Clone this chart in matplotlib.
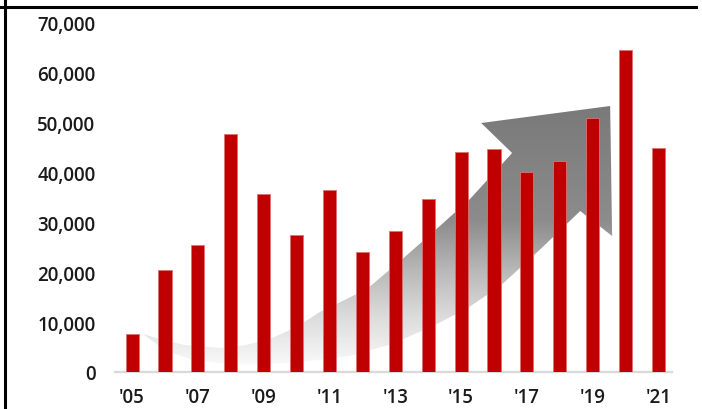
import numpy as np
import matplotlib
matplotlib.use("Agg")
import matplotlib.pyplot as plt
from matplotlib.patches import Polygon
from matplotlib.lines import Line2D
from matplotlib.colors import LinearSegmentedColormap

years = list(range(2005, 2022))
values = [7600, 20400, 25400, 47600, 35600, 27400, 36400, 24000, 28200,
          34600, 44000, 44600, 40000, 42200, 50800, 64400, 44800]
tick_labels = ["'05", "'07", "'09", "'11", "'13", "'15", "'17", "'19", "'21"]
y_ticks = [0, 10000, 20000, 30000, 40000, 50000, 60000, 70000]

plt.rcParams['font.family'] = ['Open Sans', 'DejaVu Sans']

fig = plt.figure(figsize=(7.02, 4.10), dpi=100)
ax = fig.add_axes([115 / 702, 1 - 373 / 410, 557 / 702, 350 / 410])

x = np.arange(len(years))
ax.bar(x, values, width=0.40, color='#C00000', edgecolor='#E07070',
       linewidth=0.6, zorder=3)

# decorative curved arrow (background), x in bar slots, y in data units
arrow_pts = [
    (0.33, 7600), (1.0, 6300), (1.6, 5400), (2.67, 4800), (3.4, 5300),
    (4.19, 6600), (5.0, 9000), (5.71, 12000), (7.14, 16600), (8.2, 22500),
    (9.15, 28000), (10.27, 34600), (11.55, 43800),
    (10.61, 49800), (14.53, 53200), (14.59, 27200), (13.62, 32200),
    (12.4, 24500), (11.19, 17200), (10.2, 12800), (9.15, 9200),
    (7.9, 5600), (6.63, 3200), (5.0, 1900), (3.59, 1500), (2.6, 1800),
    (1.76, 2600), (1.0, 4300),
]
arrow = Polygon(arrow_pts, closed=True, facecolor='none', edgecolor='none')
ax.add_patch(arrow)
cmap = LinearSegmentedColormap.from_list('grad', [
    (0.0, '#ffffff'), (0.06, '#f3f3f3'), (0.2, '#dcdcdc'),
    (0.37, '#b8b8b8'), (0.55, '#8c8c8c'), (1.0, '#787878')])
grad = np.linspace(0, 1, 256).reshape(-1, 1)
img = ax.imshow(grad, cmap=cmap, origin='lower', aspect='auto',
                extent=[0, 15, 0, 55000], zorder=1)
img.set_clip_path(arrow)

ax.set_xlim(-0.52, 16.41)
ax.set_ylim(0, 70000)
ax.set_xticks(x[::2])
ax.set_xticklabels(tick_labels)
ax.set_yticks(y_ticks)
ax.set_yticklabels([f"{v:,}" for v in y_ticks])
for s in ['top', 'right', 'left']:
    ax.spines[s].set_visible(False)
ax.spines['bottom'].set_color('#d9d9d9')
ax.spines['bottom'].set_linewidth(1.6)
ax.spines['bottom'].set_zorder(2)
ax.tick_params(axis='both', length=0, labelsize=13.5, colors='#1a1a1a')
ax.tick_params(axis='y', pad=14)
ax.tick_params(axis='x', pad=11)
for lab in ax.get_xticklabels() + ax.get_yticklabels():
    lab.set_fontweight('semibold')

# frame lines on the figure
fig.add_artist(Line2D([4.5 / 702, 4.5 / 702], [0, 1], color='black', lw=2.2))
fig.add_artist(Line2D([0, 696 / 702], [1 - 7.5 / 410, 1 - 7.5 / 410],
                      color='black', lw=2.2))

fig.savefig('out.png', dpi=100)
